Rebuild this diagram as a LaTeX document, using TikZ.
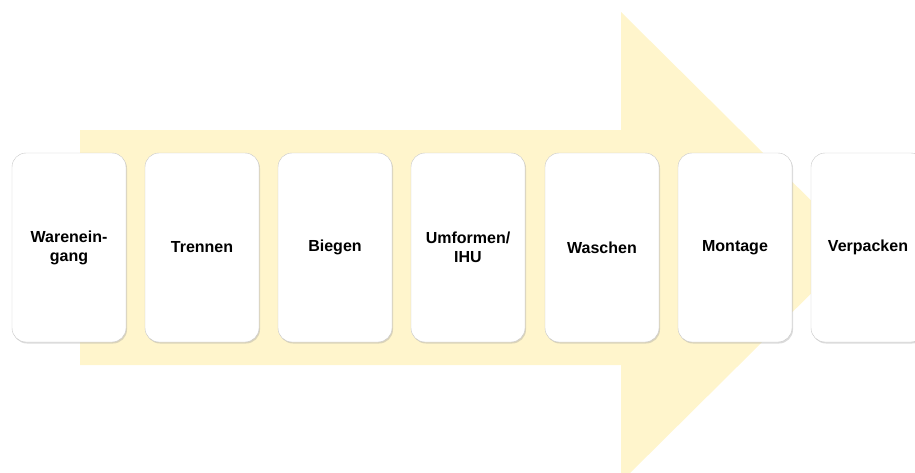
\documentclass[tikz,border=0pt]{standalone}
\usepackage{fontspec}
\setmainfont{Liberation Sans}
\usepackage{xcolor}
\definecolor{FlowYellow}{RGB}{255,245,204}
\definecolor{CardLine}{RGB}{200,200,200}
\usetikzlibrary{shadows, positioning}

\begin{document}
\begin{tikzpicture}[x=1pt, y=-1pt, font=\fontsize{16}{19}\selectfont\bfseries]
    \tikzset{
        card/.style={rectangle, rounded corners=14pt, draw=CardLine,
            thin, fill=white, minimum width=114pt, minimum height=189pt,
            text width=104pt, align=center, inner sep=0pt,
            drop shadow={shadow xshift=1pt, shadow yshift=-1.5pt,
                opacity=0.35, fill=black!40}},
        flow/.style={fill=FlowYellow, draw=none}
    }
    \useasboundingbox (0,0) rectangle (915,472);
    % big process arrow in the background
    \fill[flow] (80,130) -- (621,130) -- (621,12) -- (858,247)
        -- (621,482) -- (621,365) -- (80,365) -- cycle;
    \node[card] (wein) at (69,247.5) {Warenein-\\gang};
    \node[card] (tren) at (202,247.5) {Trennen};
    \node[card] (bieg) at (335,247.5) {Biegen};
    \node[card] (umf) at (468,247.5) {Umformen/\\IHU};
    \node[card] (wasch) at (602,247.5) {Waschen};
    \node[card] (mont) at (735,247.5) {Montage};
    \node[card] (verp) at (868,247.5) {Verpacken};
\end{tikzpicture}
\end{document}
